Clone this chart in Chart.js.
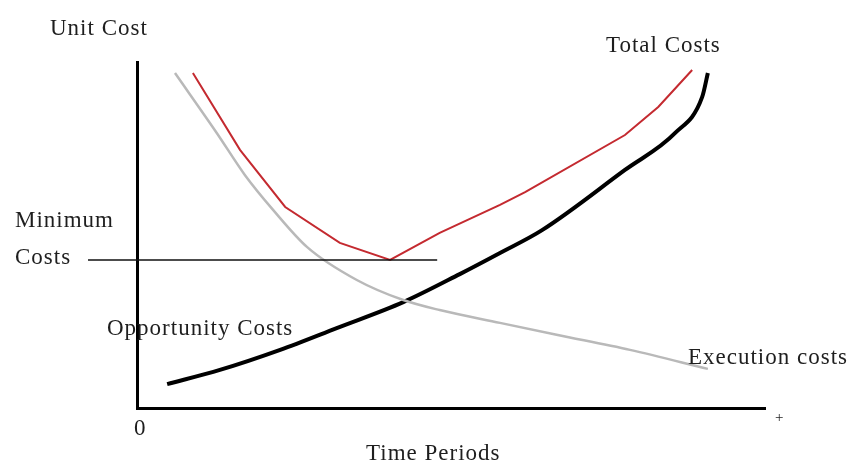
<!DOCTYPE html>
<html>
<head>
<meta charset="utf-8">
<script src="https://cdn.jsdelivr.net/npm/chart.js@4.4.1/dist/chart.umd.min.js"></script>
<style>
  html, body { margin: 0; padding: 0; background: #fff; }
  #wrap { width: 850px; height: 464px; }
</style>
</head>
<body>
<div id="wrap"><canvas id="costChart" width="850" height="464"></canvas></div>
<script>
// Values, axis units 0..100
const opportunityX = [4.8, 13.2, 22.8, 31.8, 42.4, 51.4, 57.8, 64.5, 77.7, 85.7, 90.0, 90.9];
const opportunityY = [6.9, 11.0, 16.8, 23.1, 30.6, 38.7, 44.8, 51.4, 68.8, 79.5, 89.9, 96.8];

const executionX = [6.05, 12.7, 17.2, 21.7, 27.1, 35.0, 42.4, 48.2, 57.8, 67.0, 78.5, 90.9];
const executionY = [96.8, 79.5, 67.3, 57.2, 46.5, 37.0, 31.2, 28.3, 24.6, 21.1, 16.8, 11.3];

const totalX = [8.9, 16.4, 23.6, 32.3, 40.3, 48.2, 57.8, 61.8, 77.7, 83.0, 88.4];
const totalY = [96.8, 74.6, 58.1, 47.7, 42.8, 50.6, 58.7, 62.4, 78.9, 87.0, 97.7];

const minimumX = [-7.8, 47.8];
const minimumY = [42.8, 42.8];

function toPoints(xs, ys) {
  return xs.map((x, i) => ({ x: x, y: ys[i] }));
}

// Text labels placed on the drawing
const labelFont = '23px "Liberation Serif", "DejaVu Serif", serif';
const annotations = [
  { text: 'Unit Cost', x: 50, y: 35 },
  { text: 'Total Costs', x: 606, y: 52 },
  { text: 'Minimum', x: 15, y: 227 },
  { text: 'Costs', x: 15, y: 264 },
  { text: 'Opportunity Costs', x: 107, y: 335 },
  { text: 'Execution costs', x: 688, y: 364 },
  { text: '0', x: 134, y: 435 },
  { text: 'Time Periods', x: 366, y: 460 },
  { text: '+', x: 775, y: 422, size: 15 }
];

const labelPlugin = {
  id: 'labels',
  afterDraw(chart) {
    const ctx = chart.ctx;
    ctx.save();
    ctx.fillStyle = '#1e1e1e';
    ctx.textBaseline = 'alphabetic';
    ctx.textAlign = 'left';
    ctx.letterSpacing = '1px';
    annotations.forEach(a => {
      ctx.font = a.size ? a.size + 'px "Liberation Serif", serif' : labelFont;
      ctx.fillText(a.text, a.x, a.y);
    });
    ctx.restore();
  }
};

new Chart(document.getElementById('costChart'), {
  type: 'line',
  data: {
    datasets: [
      {
        label: 'Minimum Costs',
        data: toPoints(minimumX, minimumY),
        borderColor: '#111',
        borderWidth: 1.5,
        pointRadius: 0,
        tension: 0,
        clip: false
      },
      {
        label: 'Execution costs',
        data: toPoints(executionX, executionY),
        borderColor: '#b9b9b9',
        borderWidth: 2.5,
        pointRadius: 0,
        cubicInterpolationMode: 'monotone'
      },
      {
        label: 'Total Costs',
        data: toPoints(totalX, totalY),
        borderColor: '#c42a30',
        borderWidth: 2,
        pointRadius: 0,
        tension: 0
      },
      {
        label: 'Opportunity Costs',
        data: toPoints(opportunityX, opportunityY),
        borderColor: '#000',
        borderWidth: 4,
        pointRadius: 0,
        cubicInterpolationMode: 'monotone'
      }
    ]
  },
  options: {
    responsive: false,
    animation: false,
    layout: { padding: { left: 129, right: 85, top: 62, bottom: 48 } },
    plugins: {
      legend: { display: false },
      tooltip: { enabled: false }
    },
    scales: {
      x: {
        type: 'linear',
        min: 0,
        max: 100,
        grid: { display: false },
        ticks: { display: false },
        border: { display: true, color: '#000', width: 3 }
      },
      y: {
        type: 'linear',
        min: 0,
        max: 100,
        grid: { display: false },
        ticks: { display: false },
        border: { display: true, color: '#000', width: 3 }
      }
    }
  },
  plugins: [labelPlugin]
});
</script>
</body>
</html>
